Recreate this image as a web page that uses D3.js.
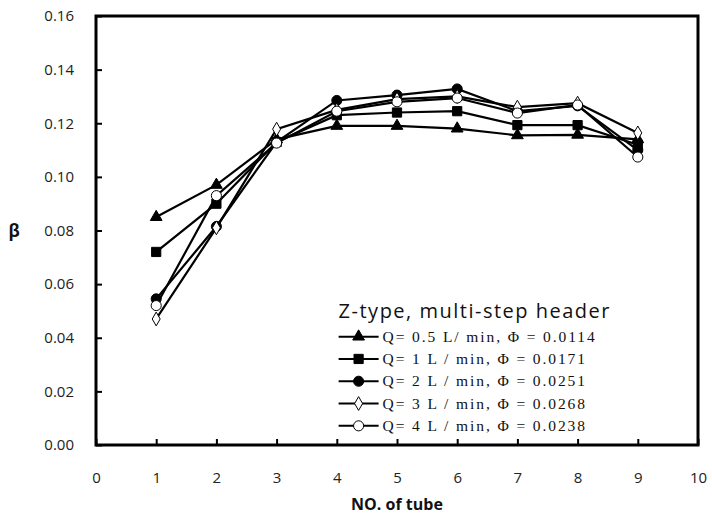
<!DOCTYPE html>
<html>
<head>
<meta charset="utf-8">
<script src="https://cdn.jsdelivr.net/npm/d3@7"></script>
<style>
  body { margin: 0; background: #fff; }
  .tick text { font-family: "Open Sans", Lato, sans-serif; font-size: 15px; fill: #222; }
</style>
</head>
<body>
<div id="viz_container"></div>
<script>
// data
const tubes = [1, 2, 3, 4, 5, 6, 7, 8, 9];
const q05 = [0.085, 0.097, 0.114, 0.119, 0.119, 0.118, 0.1155, 0.1157, 0.114];
const q1 = [0.072, 0.090, 0.113, 0.123, 0.124, 0.1245, 0.1193, 0.1193, 0.112];
const q2 = [0.0545, 0.0815, 0.113, 0.1285, 0.1305, 0.1328, 0.1245, 0.1265, 0.110];
const q3 = [0.047, 0.081, 0.1178, 0.125, 0.129, 0.1300, 0.126, 0.1275, 0.1164];
const q4 = [0.052, 0.093, 0.1126, 0.1245, 0.128, 0.1294, 0.1238, 0.1268, 0.1074];
const seriesNames = [
  "Q= 0.5 L/ min, \u03A6 = 0.0114",
  "Q= 1 L / min, \u03A6 = 0.0171",
  "Q= 2 L / min, \u03A6 = 0.0251",
  "Q= 3 L / min, \u03A6 = 0.0268",
  "Q= 4 L / min, \u03A6 = 0.0238"
];
const markers = ["triangle", "square", "dot", "diamond", "circle"];
const xTicks = [0, 1, 2, 3, 4, 5, 6, 7, 8, 9, 10];
const yTicks = [0, 0.02, 0.04, 0.06, 0.08, 0.10, 0.12, 0.14, 0.16];

const series = [q05, q1, q2, q3, q4].map((vals, i) => ({
  name: seriesNames[i],
  marker: markers[i],
  values: vals.map((v, j) => [tubes[j], v])
}));

// dimensions
const margin = { top: 16, right: 14, bottom: 71, left: 96 };
const width = 712 - margin.left - margin.right;
const height = 516 - margin.top - margin.bottom;

const svg = d3.select("#viz_container")
  .append("svg")
  .attr("width", 712)
  .attr("height", 516)
  .append("g")
  .attr("transform", `translate(${margin.left}, ${margin.top})`);

const xScale = d3.scaleLinear().domain([0, 10]).range([0, width]);
const yScale = d3.scaleLinear().domain([0, 0.16]).range([height, 0]);

// axes with inward ticks
svg.append("g")
  .attr("transform", `translate(0,${height})`)
  .call(d3.axisBottom(xScale).tickValues(xTicks).tickSize(-6).tickPadding(27).tickFormat(d3.format("d")))
  .call(g => g.select(".domain").remove())
  .call(g => g.selectAll(".tick line").attr("stroke", "#000").attr("stroke-width", 2));

svg.append("g")
  .call(d3.axisLeft(yScale).tickValues(yTicks).tickSize(-6).tickPadding(22).tickFormat(d3.format(".2f")))
  .call(g => g.select(".domain").remove())
  .call(g => g.selectAll(".tick line").attr("stroke", "#000").attr("stroke-width", 2));

// frame
svg.append("rect")
  .attr("x", 0).attr("y", 0)
  .attr("width", width).attr("height", height)
  .attr("fill", "none")
  .attr("stroke", "#000")
  .attr("stroke-width", 3);

// symbols
const symbolFor = {
  triangle: d3.symbol().type(d3.symbolTriangle).size(60),
  square: d3.symbol().type(d3.symbolSquare).size(85),
  dot: d3.symbol().type(d3.symbolCircle).size(80),
  diamond: d3.symbol().type(d3.symbolDiamond).size(55),
  circle: d3.symbol().type(d3.symbolCircle).size(80)
};
const filled = m => (m === "triangle" || m === "square" || m === "dot");

const line = d3.line()
  .x(d => xScale(d[0]))
  .y(d => yScale(d[1]));

// lines
svg.append("g")
  .selectAll("path")
  .data(series)
  .join("path")
  .attr("d", d => line(d.values))
  .attr("fill", "none")
  .attr("stroke", "#000")
  .attr("stroke-width", 2.2);

// markers
series.forEach(s => {
  svg.append("g")
    .selectAll("path")
    .data(s.values)
    .join("path")
    .attr("d", symbolFor[s.marker]())
    .attr("transform", d => `translate(${xScale(d[0])},${yScale(d[1])})`)
    .attr("fill", filled(s.marker) ? "#000" : "#fff")
    .attr("stroke", "#000")
    .attr("stroke-width", 1);
});

// legend
const legend = svg.append("g")
  .attr("transform", `translate(${xScale(4.03)}, ${yScale(0.0475)})`);

legend.append("text")
  .attr("x", 0)
  .attr("y", 0)
  .style("font-family", "'Open Sans', Lato, sans-serif")
  .style("font-size", "20px")
  .style("letter-spacing", "1.5px")
  .style("fill", "#111")
  .text("Z-type, multi-step header");

series.forEach((s, i) => {
  const y = 19 + i * 22.3;
  legend.append("line")
    .attr("x1", 0).attr("x2", 40)
    .attr("y1", y).attr("y2", y)
    .attr("stroke", "#000")
    .attr("stroke-width", 2);
  legend.append("path")
    .attr("d", symbolFor[s.marker]())
    .attr("transform", `translate(20,${y})`)
    .attr("fill", filled(s.marker) ? "#000" : "#fff")
    .attr("stroke", "#000")
    .attr("stroke-width", 1);
  legend.append("text")
    .attr("x", 44)
    .attr("y", y + 5)
    .style("font-family", "'Liberation Serif', 'DejaVu Serif', serif")
    .style("font-size", "15.5px")
    .style("letter-spacing", "1.9px")
    .style("fill", "#111")
    .text(s.name);
});

// axis labels
svg.append("text")
  .attr("x", width / 2)
  .attr("y", height + 65)
  .attr("text-anchor", "middle")
  .style("font-family", "'Open Sans', Lato, sans-serif")
  .style("font-size", "16px")
  .style("font-weight", "bold")
  .style("fill", "#111")
  .text("NO. of  tube");

svg.append("text")
  .attr("x", -margin.left + 14)
  .attr("y", yScale(0.08) + 6)
  .attr("text-anchor", "middle")
  .style("font-family", "'Open Sans', Lato, sans-serif")
  .style("font-size", "17px")
  .style("font-weight", "bold")
  .style("fill", "#111")
  .text("\u03B2");
</script>
</body>
</html>
